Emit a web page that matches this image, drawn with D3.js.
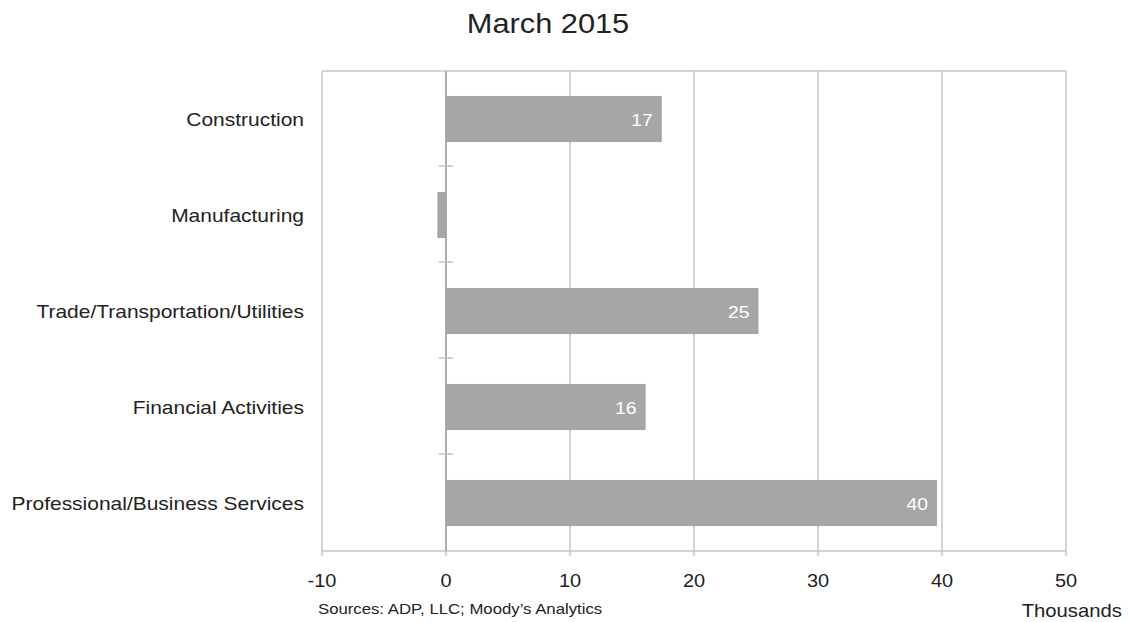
<!DOCTYPE html>
<html>
<head>
<meta charset="utf-8">
<script src="https://cdn.jsdelivr.net/npm/d3@7"></script>
<style>
  body { margin: 0; background: #fff; }
  svg { font-family: "Liberation Sans", Arial, sans-serif; }
</style>
</head>
<body>
<svg width="1129" height="622"></svg>
<script>
// data (thousands)
const categories = ["Construction", "Manufacturing", "Trade/Transportation/Utilities", "Financial Activities", "Professional/Business Services"];
const values = [17.4, -0.7, 25.2, 16.1, 39.6];
const valueLabels = ["17", "", "25", "16", "40"];
const xTicks = [-10, 0, 10, 20, 30, 40, 50];

const svg = d3.select("svg");
const plotLeft = 322, plotRight = 1066, plotTop = 71, plotBottom = 551;
const stretch = 1.14;  // the original text looks a bit wide

const x = d3.scaleLinear().domain([-10, 50]).range([plotLeft, plotRight]);
const y = d3.scaleBand().domain(categories).range([plotTop, plotBottom]).paddingInner(0.52).paddingOuter(0.26);

const grid = "#c6c6c6";

const place = (px, py) => `translate(${px},${py}) scale(${stretch},1)`;

// gridlines
svg.append("g").selectAll("line")
  .data(xTicks)
  .enter().append("line")
    .attr("x1", d => x(d)).attr("x2", d => x(d))
    .attr("y1", plotTop).attr("y2", plotBottom + 5)
    .attr("stroke", grid).attr("stroke-width", 1.5);

// plot border (top / bottom)
svg.append("line").attr("x1", plotLeft).attr("x2", plotRight).attr("y1", plotTop).attr("y2", plotTop)
  .attr("stroke", grid).attr("stroke-width", 1.5);
svg.append("line").attr("x1", plotLeft).attr("x2", plotRight).attr("y1", plotBottom).attr("y2", plotBottom)
  .attr("stroke", grid).attr("stroke-width", 1.5);

// bars
svg.append("g").selectAll("rect")
  .data(values)
  .enter().append("rect")
    .attr("x", d => x(Math.min(0, d)))
    .attr("y", (d, i) => y(categories[i]))
    .attr("width", d => Math.abs(x(d) - x(0)))
    .attr("height", y.bandwidth())
    .attr("fill", "#a6a6a6");

// category axis at zero
svg.append("line").attr("x1", x(0)).attr("x2", x(0)).attr("y1", plotTop).attr("y2", plotBottom)
  .attr("stroke", "#a0a0a0").attr("stroke-width", 1.5);

// ticks between categories on the zero line
const gap = y.step() * y.paddingInner() / 2;
svg.append("g").selectAll("line")
  .data(categories.slice(1))
  .enter().append("line")
    .attr("x1", x(0) - 7).attr("x2", x(0) + 7)
    .attr("y1", d => y(d) - gap - 1)
    .attr("y2", d => y(d) - gap - 1)
    .attr("stroke", "#c0c0c0").attr("stroke-width", 1.5);

// value labels
svg.append("g").selectAll("text")
  .data(values)
  .enter().append("text")
    .attr("transform", (d, i) => place(x(d) - 9, y(categories[i]) + y.bandwidth() / 2 + 7))
    .attr("text-anchor", "end")
    .attr("fill", "#fff")
    .attr("font-size", 17)
    .text((d, i) => valueLabels[i]);

// category labels
svg.append("g").selectAll("text")
  .data(categories)
  .enter().append("text")
    .attr("transform", d => place(304, y(d) + y.bandwidth() / 2 + 7))
    .attr("text-anchor", "end")
    .attr("fill", "#222")
    .attr("font-size", 18.4)
    .text(d => d);

// x tick labels
svg.append("g").selectAll("text")
  .data(xTicks)
  .enter().append("text")
    .attr("transform", d => place(x(d), 587))
    .attr("text-anchor", "middle")
    .attr("fill", "#222")
    .attr("font-size", 17.5)
    .text(d => d);

// title
svg.append("text").attr("transform", place(548, 33)).attr("text-anchor", "middle")
  .attr("font-size", 27).attr("fill", "#222").text("March 2015");

// sources
svg.append("text").attr("transform", place(318, 614))
  .attr("font-size", 14.7).attr("fill", "#222").text("Sources: ADP, LLC; Moody\u2019s Analytics");

// units
svg.append("text").attr("transform", place(1122, 617)).attr("text-anchor", "end")
  .attr("font-size", 17.8).attr("fill", "#222").text("Thousands");
</script>
</body>
</html>
